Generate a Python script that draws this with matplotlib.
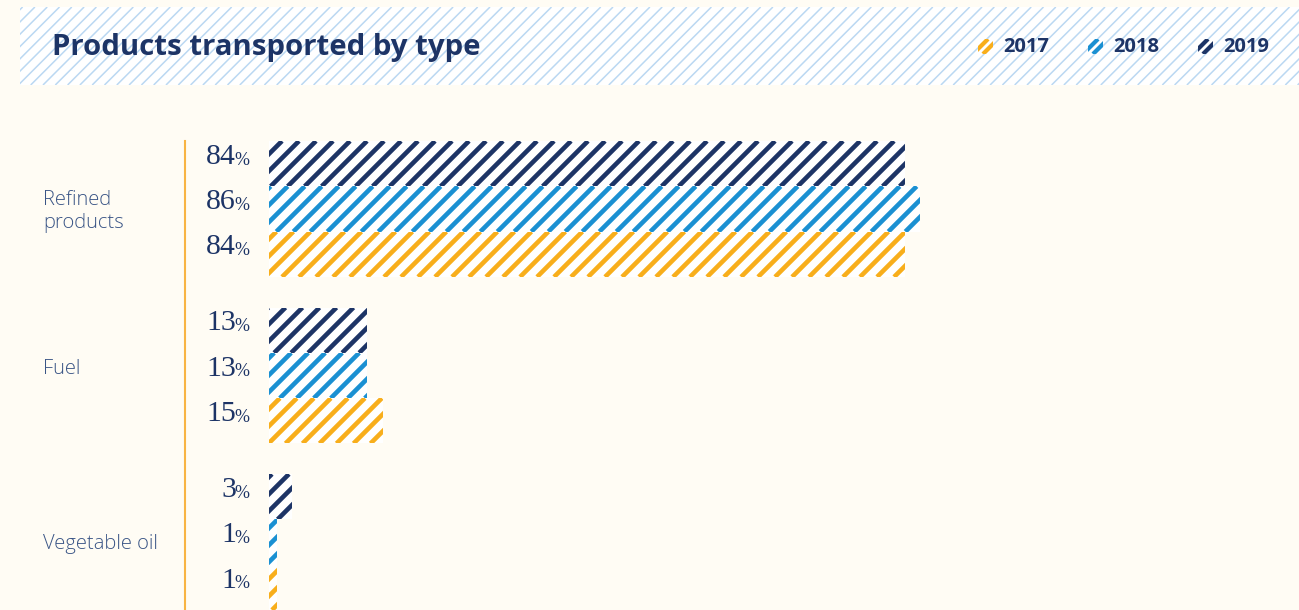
"""Products transported by type - striped horizontal bars"""
import numpy as np
import matplotlib
matplotlib.use("Agg")
import matplotlib.pyplot as plt
import matplotlib.transforms as mtrans
from matplotlib.patches import Rectangle
from matplotlib.lines import Line2D
from matplotlib.collections import LineCollection

categories = ["Refined\nproducts", "Fuel", "Vegetable oil"]
years = ["2017", "2018", "2019"]
values = {
    "2017": [84, 15, 1],
    "2018": [86, 13, 1],
    "2019": [84, 13, 3],
}
colors = {"2017": "#F8AE1B", "2018": "#1A90D2", "2019": "#1D3466"}

BG = "#FFFCF4"
NAVY = "#1D3466"
W, H = 1299, 610

fig = plt.figure(figsize=(W / 100, H / 100), dpi=100)
fig.patch.set_facecolor(BG)
ident = mtrans.IdentityTransform()


def stripes(patch, x0, y0, x1, y1, color, step, lw_px, offsets=None):
    """45° stripes in display pixels (y up), clipped to patch"""
    if offsets is None:
        offsets = np.arange(np.floor((x0 - y1) / step) * step, x1 - y0 + step, step)
    segs = [[(c + y0, y0), (c + y1, y1)] for c in offsets]
    lc = LineCollection(segs, colors=color, linewidths=lw_px * 0.72,
                        transform=ident, capstyle="butt")
    lc.set_clip_path(patch)
    fig.add_artist(lc)


# ─── header band with thin blue stripes ───────────────────────────────
hx0, hy0, hx1, hy1 = 20, 7, W, 85
hax = fig.add_axes([hx0 / W, 1 - hy1 / H, (hx1 - hx0) / W, (hy1 - hy0) / H])
hax.set_xlim(hx0, hx1); hax.set_ylim(hy1, hy0)
hax.set_facecolor("white")
hax.axis("off")
hax.add_patch(Rectangle((hx0, hy0), hx1 - hx0, hy1 - hy0, facecolor="white", edgecolor="none"))
step = 12.3
for x in np.arange(hx0 - 100, hx1 + 100, step):
    hax.plot([x, x + (hy1 - hy0)], [hy1, hy0], color="#BBD8F2", lw=1.1, solid_capstyle="butt")

fig.text(52 / W, 1 - 48 / H, "Products transported by type", fontsize=21.2,
         fontweight="bold", color=NAVY, family="Open Sans", va="center", ha="left")

# legend swatches
sw_x = {"2017": 978, "2018": 1088, "2019": 1198}
for yr in years:
    x0 = sw_x[yr]
    sq = Rectangle((x0, H - 54), 15, 15, transform=ident, facecolor="none", edgecolor="none")
    fig.add_artist(sq)
    cc = (x0 + 7.5) - (H - 54 + 7.5)
    stripes(sq, x0, H - 54, x0 + 15, H - 39, colors[yr], 10, 4.2, offsets=[cc - 5, cc + 5])
    fig.text((x0 + 25) / W, 1 - 47 / H, yr, fontsize=14.5, fontweight="bold", color=NAVY,
             family="Open Sans", va="center", ha="left")

# ─── main bars ─────────────────────────────────────────────────────────
px_per_unit = 636 / 84
x_left = 269
pitch = 3.675
ax = fig.add_axes([x_left / W, 0, (W - x_left) / W, (H - 141) / H])
ax.set_xlim(0, (W - x_left) / px_per_unit)
ax.set_ylim(2 * pitch + 1.5, -1.5)
ax.axis("off")

tr = mtrans.blended_transform_factory(fig.transFigure, ax.transData)
order = ["2019", "2018", "2017"]
label_dy = [0.05, -0.15, 0.05]
for i, cat in enumerate(categories):
    c = i * pitch
    for k, yr in enumerate(order):
        y = c - 1 + k
        v = values[yr][i]
        bar = ax.barh(y, v, height=1.0, left=0, color="white", lw=0)[0]
        (bx0, by0), (bx1, by1) = ax.transData.transform([(0, y + 0.5), (v, y - 0.5)])
        stripes(bar, bx0, by0, bx1, by1, colors[yr], 17, 4.6)
        ax.text(236 / W, y - 0.15, f"{v}", transform=tr, ha="right", va="center",
                fontsize=21.5, color=NAVY, family="Liberation Serif")
        ax.text(249 / W, y - 0.08, "%", transform=tr, ha="right", va="center",
                fontsize=13, color=NAVY, family="Liberation Serif")
    ax.text(43 / W, c + label_dy[i], cat, transform=tr, ha="left", va="center", fontsize=14.5,
            color="#3A5586", family="Open Sans", fontweight="light", linespacing=1.2)

fig.add_artist(Line2D([185 / W, 185 / W], [0, 1 - 141 / H], transform=fig.transFigure,
                      color="#F8B443", lw=1.5))

fig.savefig("out.png", dpi=100, facecolor=BG)
